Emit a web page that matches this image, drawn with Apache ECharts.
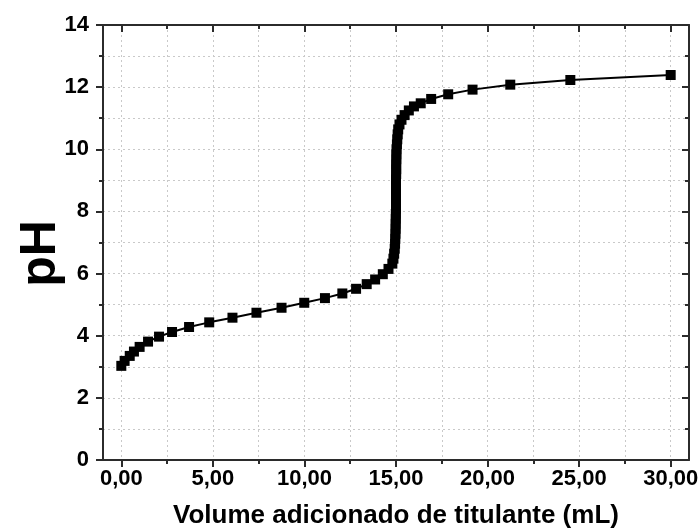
<!DOCTYPE html>
<html>
<head>
<meta charset="utf-8">
<script src="https://cdn.jsdelivr.net/npm/echarts@6/dist/echarts.min.js"></script>
<style>
  html, body { margin: 0; padding: 0; background: #fff; }
  #chart { width: 700px; height: 531px; }
</style>
</head>
<body>
<div id="chart"></div>
<script>
const volume = [
  0.00, 0.18, 0.46, 0.69, 1.00, 1.46, 2.06, 2.77, 3.70, 4.80,
  6.07, 7.38, 8.75, 9.99, 11.12, 12.07, 12.82, 13.40, 13.86, 14.28,
  14.59, 14.80, 14.86, 14.90, 14.93, 14.95, 14.96, 14.97, 14.98, 14.98,
  14.99, 14.99, 15.00, 15.00, 15.00, 15.00, 15.00, 15.00, 15.00, 15.01,
  15.01, 15.01, 15.02, 15.02, 15.03, 15.05, 15.07, 15.09, 15.12, 15.19,
  15.30, 15.47, 15.70, 15.98, 16.35, 16.92, 17.85, 19.18, 21.24, 24.52,
  30.00
];
const ph = [
  3.03, 3.19, 3.35, 3.49, 3.64, 3.81, 3.97, 4.12, 4.28, 4.43,
  4.58, 4.74, 4.90, 5.06, 5.21, 5.36, 5.51, 5.66, 5.81, 5.98,
  6.15, 6.32, 6.48, 6.64, 6.80, 6.96, 7.12, 7.28, 7.44, 7.60,
  7.76, 7.92, 8.08, 8.24, 8.40, 8.56, 8.72, 8.88, 9.04, 9.20,
  9.36, 9.52, 9.68, 9.84, 10.00, 10.16, 10.32, 10.48, 10.64, 10.80,
  10.95, 11.10, 11.25, 11.38, 11.48, 11.62, 11.77, 11.92, 12.08, 12.23,
  12.39
];
const xMajor = [0, 5, 10, 15, 20, 25, 30];
const xMinor = [2.5, 7.5, 12.5, 17.5, 22.5, 27.5];
const xTickLabels = ['0,00', '5,00', '10,00', '15,00', '20,00', '25,00', '30,00'];

const font = 'Liberation Sans, Arial, sans-serif';
const axisColor = '#2b2b2b';
const gridLine = { type: [2, 3], color: '#c9c9c9', width: 1 };

const points = volume.map((v, i) => [v, ph[i]]);

function xAxisPart(position, ticks, len, inside, withLine, withGrid, withLabel) {
  return {
    type: 'value',
    position: position,
    min: -1,
    max: 31,
    axisLine: { show: withLine, onZero: false, lineStyle: { color: axisColor, width: 2 } },
    axisTick: { show: true, customValues: ticks, length: len, inside: inside,
      lineStyle: { color: axisColor, width: 2 } },
    axisLabel: withLabel ? {
      show: true, customValues: ticks, margin: 8,
      formatter: v => xTickLabels[xMajor.indexOf(v)] || '',
      color: '#000', fontFamily: font, fontWeight: 'bold', fontSize: 22
    } : { show: false },
    splitLine: { show: withGrid, lineStyle: gridLine }
  };
}

const xAxes = [
  xAxisPart('bottom', xMajor, 7, false, true, true, true),
  xAxisPart('bottom', xMinor, 4, false, false, true, false),
  xAxisPart('top', xMajor, 7, true, true, false, false),
  xAxisPart('top', xMinor, 4, true, false, false, false)
];
xAxes[0].name = 'Volume adicionado de titulante (mL)';
xAxes[0].nameLocation = 'middle';
xAxes[0].nameGap = 43;
xAxes[0].nameMoveOverlap = false;
xAxes[0].nameTextStyle = { color: '#000', fontFamily: font, fontWeight: 'bold', fontSize: 26 };

const option = {
  animation: false,
  backgroundColor: '#fff',
  grid: { left: 103, right: 11, top: 25, bottom: 71, outerBoundsMode: 'none', containLabel: false },
  xAxis: xAxes,
  yAxis: [
    {
      type: 'value', position: 'left', min: 0, max: 14, interval: 2,
      name: 'pH', nameLocation: 'middle', nameGap: 37, nameMoveOverlap: false,
      nameTextStyle: { color: '#000', fontFamily: font, fontWeight: 'bold', fontSize: 50,
        padding: [0, 22, 0, 0] },
      axisLine: { show: true, onZero: false, lineStyle: { color: axisColor, width: 2 } },
      axisTick: { show: true, length: 7, lineStyle: { color: axisColor, width: 2 } },
      minorTick: { show: true, splitNumber: 2, length: 4, lineStyle: { color: axisColor, width: 2 } },
      axisLabel: { margin: 14, color: '#000', fontFamily: font, fontWeight: 'bold', fontSize: 22 },
      splitLine: { show: true, lineStyle: gridLine },
      minorSplitLine: { show: true, lineStyle: gridLine }
    },
    {
      type: 'value', position: 'right', min: 0, max: 14, interval: 2,
      axisLine: { show: true, onZero: false, lineStyle: { color: axisColor, width: 2 } },
      axisTick: { show: true, inside: true, length: 7, lineStyle: { color: axisColor, width: 2 } },
      minorTick: { show: true, splitNumber: 2, length: 4, lineStyle: { color: axisColor, width: 2 } },
      axisLabel: { show: false },
      splitLine: { show: false }
    }
  ],
  series: [
    {
      type: 'line',
      data: points,
      symbol: 'rect',
      symbolSize: 10,
      showAllSymbol: true,
      itemStyle: { color: '#000' },
      lineStyle: { color: '#000', width: 2 },
      z: 5
    }
  ]
};

const chart = echarts.init(document.getElementById('chart'));
chart.setOption(option);
</script>
</body>
</html>
